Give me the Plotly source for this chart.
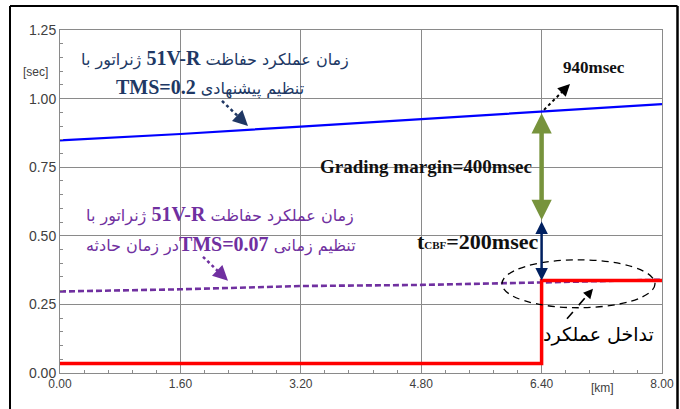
import plotly.graph_objects as go

# ---------------- data ----------------
distance_km = [0.0, 1.6, 3.2, 4.8, 6.4, 8.0]
t_tms02 = [0.848, 0.871, 0.898, 0.925, 0.952, 0.980]      # 51V-R, TMS=0.2 (blue)
t_tms007 = [0.297, 0.305, 0.317, 0.321, 0.330, 0.340]     # 51V-R, TMS=0.07 (purple dashed)
step_x = [0.0, 6.4, 6.4, 8.0]
step_y = [0.035, 0.035, 0.337, 0.337]                      # red step
fault_x = 6.4
margin_split = 0.558                                       # end of grading margin / start of tCBF
x_ticks = [0.0, 1.6, 3.2, 4.8, 6.4, 8.0]
y_ticks = [0.0, 0.25, 0.5, 0.75, 1.0, 1.25]

NAVY_TXT = "#203864"
PURPLE = "#7030A0"
GREEN = "#77933C"
NAVY = "#002060"
PERS = "DejaVu Sans"
SERIF = "Liberation Serif"

fig = go.Figure()
fig.add_trace(go.Scatter(x=distance_km, y=t_tms02, mode="lines",
                         line=dict(color="#0000FF", width=2.2), hoverinfo="skip"))
fig.add_trace(go.Scatter(x=distance_km, y=t_tms007, mode="lines",
                         line=dict(color=PURPLE, width=2.6, dash="6px,3px"), hoverinfo="skip"))
fig.add_trace(go.Scatter(x=step_x, y=step_y, mode="lines",
                         line=dict(color="#FF0000", width=3.5), hoverinfo="skip"))

# values at fault location
i_f = distance_km.index(fault_x)
top_val = t_tms02[i_f]
bot_val = step_y[-1]

ann = []
# grading margin arrow (green double arrow)
ann.append(dict(x=fault_x, y=margin_split, ax=fault_x, ay=top_val, axref="x", ayref="y",
                xref="x", yref="y", text="", showarrow=True, arrowhead=2, startarrowhead=2,
                arrowside="end+start", arrowwidth=4.5, arrowsize=0.9, startarrowsize=0.9,
                arrowcolor=GREEN))
# tCBF arrow (navy double arrow)
ann.append(dict(x=fault_x, y=bot_val, ax=fault_x, ay=margin_split, axref="x", ayref="y",
                xref="x", yref="y", text="", showarrow=True, arrowhead=2, startarrowhead=2,
                arrowside="end+start", arrowwidth=2.5, arrowsize=1.0, startarrowsize=1.0,
                arrowcolor=NAVY))

def bspan(t, size):
    return "<span style='font-family:%s;font-weight:bold;font-size:%dpx'>%s</span>" % (SERIF, size, t)

RLE, PDF = "\u202b", "\u202c"

def pannot(px, py, text, color, size=16):
    ann.append(dict(xref="paper", yref="paper", x=(px - 60) / 602, y=(373.3 - py) / 343.3,
                    text=text, showarrow=False, xanchor="center", yanchor="middle",
                    font=dict(family=PERS, size=size, color=color)))

# navy text (TMS=0.2)
pannot(215, 59, RLE + "زمان عملکرد حفاظت " + bspan("51V-R", 20) + " ژنراتور با" + PDF, NAVY_TXT)
pannot(210, 88, RLE + "تنظیم پیشنهادی " + bspan("TMS=0.2", 20) + PDF, NAVY_TXT)
# purple text (TMS=0.07)
pannot(220, 215, RLE + "زمان عملکرد حفاظت " + bspan("51V-R", 20) + " ژنراتور با" + PDF, PURPLE)
pannot(221, 245, RLE + "تنظیم زمانی " + bspan("TMS=0.07", 20) + "در زمان حادثه" + PDF, PURPLE)
# interference label
pannot(598, 335, RLE + "تداخل عملکرد" + PDF, "#000000", size=19)

# english labels
ann.append(dict(xref="paper", yref="paper", x=(594 - 60) / 602, y=(373.3 - 68) / 343.3,
                text="<b>940msec</b>", showarrow=False, xanchor="center", yanchor="middle",
                font=dict(family=SERIF, size=17, color="#111111")))
ann.append(dict(xref="paper", yref="paper", x=(426 - 60) / 602, y=(373.3 - 167) / 343.3,
                text="<b>Grading margin=400msec</b>", showarrow=False, xanchor="center",
                yanchor="middle", font=dict(family=SERIF, size=19, color="#111111")))
ann.append(dict(xref="paper", yref="paper", x=(541 - 60) / 602, y=(373.3 - 242) / 343.3,
                text="<b>t<span style='font-size:11px'>CBF</span>=200msec</b>", showarrow=False,
                xanchor="right", yanchor="middle", font=dict(family=SERIF, size=22, color="#111111")))
# axis unit labels
ann.append(dict(xref="paper", yref="paper", x=(35 - 60) / 602, y=(373.3 - 72) / 343.3,
                text="[sec]", showarrow=False, xanchor="center", yanchor="middle",
                font=dict(family="Liberation Sans", size=12, color="#404040")))
ann.append(dict(xref="paper", yref="paper", x=(602 - 60) / 602, y=(373.3 - 388) / 343.3,
                text="[km]", showarrow=False, xanchor="center", yanchor="middle",
                font=dict(family="Liberation Sans", size=12, color="#404040")))

shapes = []

def px2d(px, py):
    return (px - 60) / 75.25, (373.3 - py) / 274.6

def dashed_arrow(p0, p1, color, dash, frac=0.72, width=2):
    x0, y0 = px2d(*p0)
    x1, y1 = px2d(*p1)
    xm, ym = x0 + (x1 - x0) * frac, y0 + (y1 - y0) * frac
    shapes.append(dict(type="line", xref="x", yref="y", x0=x0, y0=y0, x1=xm, y1=ym,
                       line=dict(color=color, width=width, dash=dash)))
    ann.append(dict(x=x1, y=y1, ax=xm, ay=ym, axref="x", ayref="y", xref="x", yref="y",
                    text="", showarrow=True, arrowhead=2, arrowsize=1.2, arrowwidth=width,
                    arrowcolor=color))

dashed_arrow((222, 101), (248, 126), NAVY_TXT, "dot", width=2.5)
dashed_arrow((203, 257), (228, 281), PURPLE, "dot", width=2.5)
dashed_arrow((544, 110), (570, 84), "#000000", "dot", width=2)
dashed_arrow((567, 319), (593, 289), "#000000", "dash", width=1.6)

# ellipse
ex0, ey0 = px2d(502, 308)
ex1, ey1 = px2d(655, 260)
shapes.append(dict(type="circle", xref="x", yref="y", x0=ex0, y0=ey0, x1=ex1, y1=ey1,
                   line=dict(color="#000000", width=1.3, dash="7px,5px")))

# outer black frame (page pixel positions converted to paper coords)
def pp(px, py):
    return (px - 60) / 602, (373.3 - py) / 343.3
fx0, fy0 = pp(10, 6)
fx1, fy1 = pp(677.5, 415)
shapes.append(dict(type="line", xref="paper", yref="paper", x0=fx0, y0=fy0, x1=fx1, y1=fy0,
                   line=dict(color="#000000", width=2)))
shapes.append(dict(type="line", xref="paper", yref="paper", x0=fx0, y0=fy0, x1=fx0, y1=fy1,
                   line=dict(color="#000000", width=2)))
shapes.append(dict(type="line", xref="paper", yref="paper", x0=fx1, y0=fy0, x1=fx1, y1=fy1,
                   line=dict(color="#000000", width=2.5)))

fig.update_layout(
    width=680, height=409, showlegend=False,
    margin=dict(l=60, r=18, t=30, b=36),
    paper_bgcolor="white", plot_bgcolor="white",
    annotations=ann, shapes=shapes,
)
fig.update_xaxes(range=[0, 8], tickvals=x_ticks, tickformat=".2f",
                 showgrid=True, gridcolor="#8a8a8a", gridwidth=1,
                 showline=True, linecolor="#8a8a8a", linewidth=1, mirror=True,
                 ticks="inside", ticklen=3, tickcolor="#8a8a8a",
                 minor=dict(dtick=0.32, ticks="inside", ticklen=3, tickcolor="#8a8a8a", showgrid=False),
                 tickfont=dict(family="Liberation Sans", size=12, color="#404040"), zeroline=False,
                 automargin=False)
fig.update_yaxes(range=[0, 1.25], tickvals=y_ticks, tickformat=".2f",
                 showgrid=True, gridcolor="#8a8a8a", gridwidth=1,
                 showline=True, linecolor="#8a8a8a", linewidth=1, mirror=True,
                 ticks="inside", ticklen=3, tickcolor="#8a8a8a",
                 minor=dict(dtick=0.05, ticks="inside", ticklen=3, tickcolor="#8a8a8a", showgrid=False),
                 tickfont=dict(family="Liberation Sans", size=14, color="#404040"), zeroline=False,
                 automargin=False)

# remove the browser's default 8px body margin so the 680x409 figure fills the window exactly
fig.write_html("out.html", config={"displayModeBar": False},
               post_script="document.body.style.margin='0px';document.body.style.overflow='hidden';")
